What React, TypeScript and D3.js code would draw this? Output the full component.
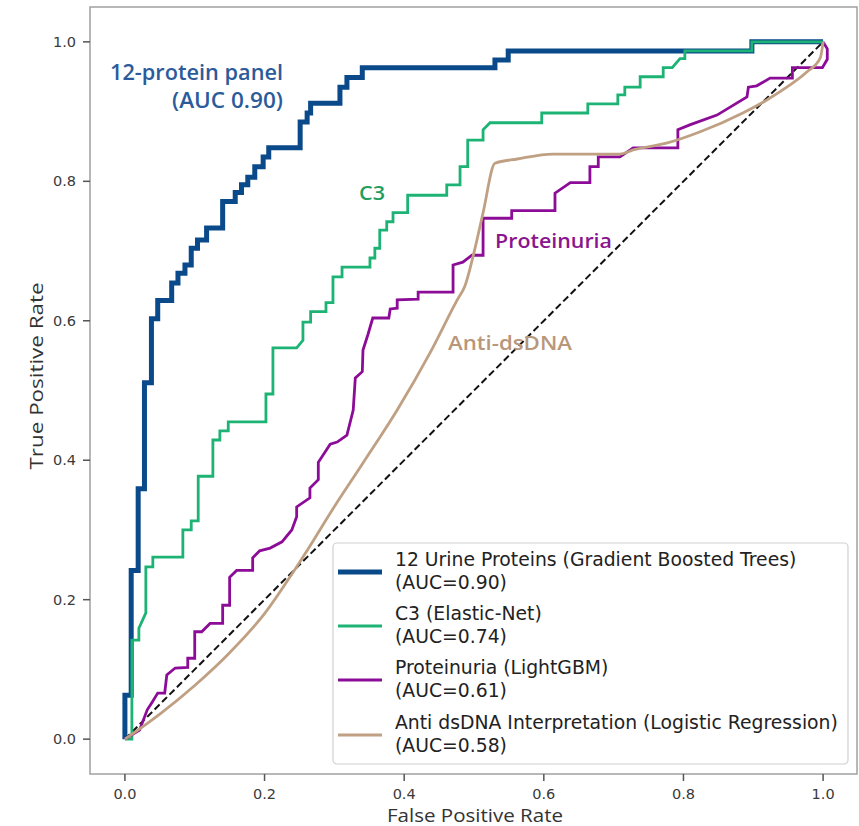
import React from "react";
import * as d3 from "d3";

type P = [number, number];

const proteinPanel: P[] = [
  [0,0],[0,0.063],[0.009,0.063],[0.009,0.242],[0.019,0.242],[0.019,0.359],[0.028,0.359],[0.028,0.511],
  [0.038,0.511],[0.038,0.603],[0.047,0.603],[0.047,0.629],[0.067,0.629],[0.067,0.654],[0.076,0.654],
  [0.076,0.668],[0.086,0.668],[0.086,0.680],[0.095,0.680],[0.095,0.704],[0.104,0.704],[0.104,0.716],
  [0.117,0.716],[0.117,0.733],[0.140,0.733],[0.140,0.771],[0.158,0.771],[0.158,0.784],[0.167,0.784],
  [0.167,0.795],[0.176,0.795],[0.176,0.806],[0.186,0.806],[0.186,0.821],[0.198,0.821],[0.198,0.835],
  [0.206,0.835],[0.206,0.848],[0.251,0.848],[0.251,0.885],[0.261,0.885],[0.261,0.898],[0.266,0.898],
  [0.266,0.912],[0.308,0.912],[0.308,0.935],[0.318,0.935],[0.318,0.949],[0.340,0.949],[0.340,0.963],
  [0.530,0.963],[0.530,0.974],[0.549,0.974],[0.549,0.987],[0.898,0.987],[0.898,1.0],[1,1],
];

const c3: P[] = [
  [0,0],[0.010,0],[0.010,0.142],[0.020,0.142],[0.020,0.159],[0.030,0.181],[0.030,0.247],[0.040,0.247],
  [0.040,0.261],[0.083,0.261],[0.083,0.300],[0.095,0.300],[0.095,0.313],[0.105,0.313],[0.105,0.377],
  [0.126,0.377],[0.126,0.429],[0.136,0.429],[0.136,0.442],[0.148,0.442],[0.148,0.455],[0.202,0.455],
  [0.202,0.495],[0.212,0.495],[0.212,0.561],[0.246,0.561],[0.255,0.572],[0.255,0.598],[0.266,0.598],
  [0.266,0.613],[0.288,0.613],[0.288,0.626],[0.298,0.626],[0.298,0.663],[0.311,0.663],[0.311,0.677],
  [0.351,0.677],[0.351,0.690],[0.358,0.690],[0.358,0.704],[0.365,0.704],[0.365,0.730],[0.375,0.730],
  [0.375,0.742],[0.384,0.742],[0.384,0.755],[0.405,0.755],[0.405,0.780],[0.461,0.780],[0.461,0.795],
  [0.480,0.795],[0.480,0.821],[0.491,0.821],[0.491,0.859],[0.513,0.859],[0.513,0.874],[0.523,0.884],
  [0.597,0.884],[0.597,0.898],[0.663,0.898],[0.663,0.911],[0.706,0.911],[0.706,0.924],[0.716,0.924],
  [0.716,0.935],[0.738,0.935],[0.738,0.950],[0.771,0.950],[0.771,0.963],[0.784,0.963],[0.795,0.976],
  [0.802,0.976],[0.802,0.987],[0.898,0.987],[0.898,1.0],[1,1],
];

const proteinuria: P[] = [
  [0,0],[0.021,0.013],[0.032,0.042],[0.039,0.053],[0.047,0.066],[0.057,0.066],[0.060,0.092],
  [0.072,0.102],[0.090,0.103],[0.090,0.116],[0.100,0.116],[0.100,0.154],[0.110,0.154],[0.122,0.166],
  [0.140,0.166],[0.140,0.192],[0.150,0.192],[0.150,0.232],[0.160,0.242],[0.183,0.242],[0.183,0.260],
  [0.193,0.270],[0.208,0.274],[0.225,0.283],[0.239,0.300],[0.246,0.319],[0.246,0.333],[0.265,0.346],
  [0.265,0.360],[0.277,0.372],[0.277,0.397],[0.294,0.423],[0.304,0.426],[0.318,0.436],[0.327,0.472],
  [0.330,0.518],[0.340,0.527],[0.341,0.558],[0.348,0.580],[0.355,0.604],[0.378,0.604],[0.380,0.617],
  [0.390,0.618],[0.390,0.630],[0.420,0.631],[0.420,0.641],[0.470,0.641],[0.470,0.680],[0.484,0.684],
  [0.497,0.694],[0.513,0.694],[0.513,0.747],[0.554,0.747],[0.554,0.758],[0.616,0.758],[0.616,0.783],
  [0.638,0.798],[0.666,0.798],[0.666,0.821],[0.678,0.821],[0.678,0.835],[0.709,0.835],[0.728,0.848],
  [0.792,0.848],[0.792,0.874],[0.809,0.881],[0.848,0.895],[0.891,0.921],[0.893,0.935],[0.905,0.937],
  [0.924,0.948],[0.956,0.948],[0.956,0.963],[0.999,0.963],[1.006,0.975],[1.006,0.99],[1.0,1.0],
];

const antiDsDNA: P[] = [
  [0,0],[0.05,0.036],[0.10,0.077],[0.15,0.124],[0.20,0.180],[0.24,0.238],[0.27,0.285],[0.294,0.324],
  [0.341,0.396],[0.390,0.472],[0.437,0.554],[0.476,0.630],[0.487,0.650],[0.501,0.702],[0.513,0.755],
  [0.530,0.826],[0.562,0.832],[0.613,0.839],[0.709,0.839],[0.728,0.845],[0.777,0.855],[0.824,0.871],
  [0.885,0.898],[0.920,0.917],[0.948,0.935],[0.977,0.957],[0.996,0.977],[1.0,1.0],
];

const chance: P[] = [[0,0],[1,1]];

const tickValues = [0, 0.2, 0.4, 0.6, 0.8, 1.0];

const seriesNames = [
  "12 Urine Proteins (Gradient Boosted Trees)",
  "C3 (Elastic-Net)",
  "Proteinuria (LightGBM)",
  "Anti dsDNA Interpretation (Logistic Regression)",
];
const seriesAUC = ["(AUC=0.90)", "(AUC=0.74)", "(AUC=0.61)", "(AUC=0.58)"];
const lineColors = ["#0a4a8a", "#1db374", "#8c0c98", "#c0a083"];
const lineWidths = [5, 2.8, 2.8, 2.8];

export default function App() {
  const W = 859, H = 826;
  const x = d3.scaleLinear().domain([-0.05, 1.05]).range([90, 858]);
  const y = d3.scaleLinear().domain([-0.05, 1.05]).range([774, 7]);
  const line = d3.line<P>().x((d) => x(d[0])).y((d) => y(d[1]));
  const smooth = d3.line<P>().x((d) => x(d[0])).y((d) => y(d[1])).curve(d3.curveMonotoneX);

  const tickFont = "DejaVu Sans, sans-serif";
  const labelFont = "Open Sans, sans-serif";

  const legendRows = [559, 613, 667, 722];

  return (
    <svg width={W} height={H} style={{ position: "absolute", left: 0, top: 0, background: "#fff" }}>
      <rect x={0} y={0} width={W} height={H} fill="#fff" />
      <path d={line(chance) || ""} fill="none" stroke="#111" strokeWidth={2} strokeDasharray="7,3.5" />
      <path d={line(proteinPanel) || ""} fill="none" stroke={lineColors[0]} strokeWidth={lineWidths[0]} />
      <path d={line(c3) || ""} fill="none" stroke={lineColors[1]} strokeWidth={lineWidths[1]} />
      <path d={line(proteinuria) || ""} fill="none" stroke={lineColors[2]} strokeWidth={lineWidths[2]} />
      <path d={smooth(antiDsDNA) || ""} fill="none" stroke={lineColors[3]} strokeWidth={lineWidths[3]} />

      <rect x={90} y={7} width={767} height={767} fill="none" stroke="#a0a0a0" strokeWidth={1.5} />

      {tickValues.map((t) => (
        <g key={"x" + t}>
          <line x1={x(t)} x2={x(t)} y1={774} y2={781} stroke="#555" strokeWidth={1.5} />
          <text x={x(t)} y={799} textAnchor="middle" fontFamily={tickFont} fontSize={14.5} fill="#3a3a3a">
            {t.toFixed(1)}
          </text>
        </g>
      ))}
      {tickValues.map((t) => (
        <g key={"y" + t}>
          <line x1={83} x2={90} y1={y(t)} y2={y(t)} stroke="#555" strokeWidth={1.5} />
          <text x={76} y={y(t) + 5} textAnchor="end" fontFamily={tickFont} fontSize={14.5} fill="#3a3a3a">
            {t.toFixed(1)}
          </text>
        </g>
      ))}

      <text x={475} y={822} textAnchor="middle" fontFamily={labelFont} fontSize={18} fill="#333"
        textLength={176} lengthAdjust="spacingAndGlyphs">False Positive Rate</text>
      <text transform="translate(43,376) rotate(-90)" textAnchor="middle" fontFamily={labelFont} fontSize={18} fill="#333"
        textLength={187} lengthAdjust="spacingAndGlyphs">True Positive Rate</text>

      <text x={110} y={80} fontFamily={labelFont} fontWeight={600} fontSize={21} fill="#2c5b9b"
        textLength={173} lengthAdjust="spacingAndGlyphs">12-protein panel</text>
      <text x={172} y={108} fontFamily={labelFont} fontWeight={600} fontSize={21} fill="#2c5b9b"
        textLength={111} lengthAdjust="spacingAndGlyphs">(AUC 0.90)</text>
      <text x={359} y={200} fontFamily={labelFont} fontWeight={600} fontSize={20} fill="#1f9e5f"
        textLength={26} lengthAdjust="spacingAndGlyphs">C3</text>
      <text x={495} y={248} fontFamily={labelFont} fontWeight={600} fontSize={20} fill="#8a168f"
        textLength={117} lengthAdjust="spacingAndGlyphs">Proteinuria</text>
      <text x={448} y={350} fontFamily={labelFont} fontWeight={600} fontSize={20} fill="#b8977a"
        textLength={124} lengthAdjust="spacingAndGlyphs">Anti-dsDNA</text>

      <rect x={333} y={543} width={515} height={221} rx={4} fill="#fff" fillOpacity={0.85} stroke="#d0d0d0" strokeWidth={1.2} />
      {seriesNames.map((n, i) => (
        <g key={n}>
          <line x1={338} x2={382} y1={legendRows[i] + 13} y2={legendRows[i] + 13} stroke={lineColors[i]} strokeWidth={lineWidths[i] === 5 ? 5 : 3} />
          <text x={395} y={legendRows[i] + 7} fontFamily={tickFont} fontSize={18.8} fill="#222">{n}</text>
          <text x={395} y={legendRows[i] + 30} fontFamily={tickFont} fontSize={18.8} fill="#222">{seriesAUC[i]}</text>
        </g>
      ))}
    </svg>
  );
}
